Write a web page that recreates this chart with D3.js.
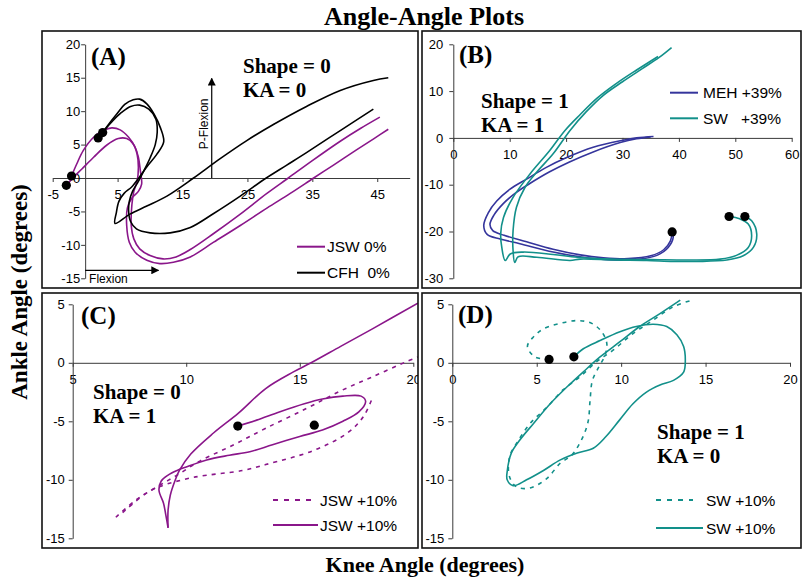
<!DOCTYPE html>
<html><head><meta charset="utf-8">
<script src="https://cdn.jsdelivr.net/npm/d3@7"></script>
<style>body{margin:0;background:#fff}svg{display:block}</style>
</head><body>
<svg id="chart" width="805" height="577"></svg>
<script>
// ---------------- DATA (knee angle, ankle angle) ----------------
// Panel A
const aJSW1 = [[-2.1,0.3],[-1.3,2.1],[-0.3,4.1],[1.3,6.1],[2.8,7.1],[4.1,7.5],[5.4,7.2],[6.7,6.1],[7.7,4.6],[8.2,3.1],[8.5,1.1],[8.7,-0.9],[8.2,-2.0],[7.2,-3.0],[6.5,-4.5],[6.4,-7.1],[6.8,-9.6],[7.7,-11.1],[9.5,-12.3],[11.5,-12.8],[13.6,-12.6],[16.2,-11.8],[19.8,-9.6],[23.9,-7.1],[28.0,-4.5],[31.6,-2.3],[35.2,0],[38.2,1.9],[41.8,4.2],[44.5,5.9],[46.7,7.3]];
const aJSW2 = [[-2.9,-1.1],[-1.8,0.1],[-0.5,1.35],[1.3,3.1],[3.3,4.9],[5.1,5.9],[6.4,5.9],[7.4,5.1],[8.0,3.6],[8.2,1.6],[8.0,-0.5],[7.5,-2.0],[7.2,-4.0],[7.1,-7.1],[7.5,-9.1],[8.4,-10.6],[10.0,-11.6],[12.0,-12.1],[14.0,-11.8],[16.2,-10.7],[19.8,-8.3],[23.9,-5.4],[28.0,-2.3],[31.3,0],[35.0,2.6],[39.3,5.5],[42.4,7.4],[45.4,9.1]];
const aCFH1 = [[2.7,6.8],[3.6,8.0],[4.9,9.6],[6.1,11.0],[7.4,11.7],[8.4,11.8],[9.5,11.1],[10.6,9.6],[11.6,7.5],[12.1,5.4],[11.0,3.5],[9.6,1.8],[8.4,0.2],[7.2,-1.3],[6.0,-2.3],[5.2,-3.5],[4.8,-5.2],[4.6,-6.8],[6.9,-5.4],[9.5,-4.2],[12.6,-2.7],[16.7,0],[20.8,2.9],[24.9,5.6],[29.0,8.0],[34.1,10.7],[39.3,13.1],[44.4,14.6],[46.7,15.0]];
const aCFH2 = [[2.0,6.0],[3.0,7.2],[4.2,8.5],[5.6,9.8],[7.0,10.7],[8.4,10.9],[9.8,10.3],[10.9,8.8],[11.1,6.8],[10.8,5.0],[10.0,3.0],[9.0,1.0],[8.2,-0.5],[7.3,-2.0],[6.8,-3.5],[6.7,-5.0],[7.0,-6.5],[7.9,-7.6],[10.0,-8.2],[13.1,-8.2],[16.2,-7.4],[19.8,-5.3],[23.9,-2.7],[27.9,0],[31.0,1.9],[34.1,3.8],[39.3,7.1],[44.4,10.3]];
const aDots = [[-2.9,-1.1],[-2.1,0.3],[2.0,6.0],[2.7,6.8]];
// Panel B
const bMEH1 = [[38.8,-20.1],[39.0,-21.2],[38.1,-23.4],[36.1,-25.1],[33.1,-25.9],[28.4,-26.1],[23.6,-25.6],[17.7,-24.4],[11.8,-22.6],[8.3,-21.6],[6.0,-20.6],[5.4,-18.7],[6.2,-16.0],[7.7,-13.5],[10.0,-11.0],[13.0,-8.8],[16.5,-6.3],[20.1,-4.2],[24.8,-2.0],[29.6,-0.6],[32.5,0],[35.5,0.3]];
const bMEH2 = [[38.8,-20.1],[38.5,-22.0],[37.3,-23.9],[35.0,-25.2],[31.0,-25.8],[26.6,-25.6],[22.5,-25.0],[17.7,-23.8],[13.0,-22.2],[9.0,-20.8],[7.0,-19.8],[6.5,-18.5],[7.2,-16.5],[8.9,-14.0],[11.0,-11.8],[13.5,-9.8],[17.0,-7.3],[20.5,-5.2],[24.8,-3.0],[29.6,-1.0],[32.5,-0.2],[35.0,0.2]];
const bSW1 = [[48.9,-16.8],[50.8,-17.3],[52.3,-18.4],[52.9,-20.9],[52.3,-23.4],[50.2,-25.1],[47.3,-25.9],[42.0,-26.1],[35.0,-26.0],[28.0,-25.9],[22.0,-25.5],[17.7,-24.9],[12.4,-24.4],[10.1,-24.8],[9.2,-26.2],[8.6,-23.4],[8.4,-20.5],[8.9,-17.0],[10.6,-12.7],[13.6,-7.7],[17.1,-2.7],[19.8,1.6],[22.5,5.0],[25.5,8.5],[29.0,11.7],[32.5,14.5],[36.3,17.4]];
const bSW2 = [[51.7,-16.8],[52.9,-17.7],[53.8,-20.5],[53.2,-23.4],[51.4,-25.2],[48.5,-26.1],[43.2,-26.4],[39.0,-26.4],[34.3,-26.2],[28.4,-26.1],[22.5,-25.9],[20.7,-26.2],[14.8,-25.5],[11.5,-25.4],[10.9,-26.6],[10.6,-24.1],[10.6,-19.8],[11.2,-14.8],[12.7,-10.6],[14.8,-7.3],[17.7,-3.4],[20.7,1.6],[23.5,5.5],[26.5,9.0],[30.0,12.0],[33.5,14.8],[36.5,17.2],[38.7,19.3]];
const bDots = [[38.8,-20.1],[48.9,-16.8],[51.7,-16.8]];
// Panel C
const cSolid1 = [[12.27,-5.41],[13.1,-4.9],[14.1,-4.2],[15.2,-3.5],[16.0,-3.1],[16.9,-2.85],[17.7,-2.85],[17.9,-3.3],[17.6,-4.2],[16.9,-5.0],[16.0,-5.75],[15.0,-6.3],[13.8,-7.0],[12.8,-7.6],[11.9,-7.9],[10.9,-8.3],[10.0,-8.9],[9.6,-9.2],[9.2,-9.6],[8.9,-10.1],[8.8,-10.9],[9.0,-12.0],[9.1,-13.0],[9.2,-14.1]];
const cSolid2 = [[9.2,-14.1],[9.2,-12.6],[9.3,-11.3],[9.5,-10.1],[9.7,-9.2],[10.2,-7.8],[11.2,-6.0],[12.3,-4.3],[13.5,-2.2],[14.7,-0.8],[15.5,0],[16.8,1.4],[18.2,2.9],[20.2,5.1]];
const cDash1 = [[6.9,-13.2],[7.8,-11.7],[8.8,-10.5],[9.6,-9.6],[10.6,-8.4],[12.1,-7.0],[13.5,-5.6],[15.3,-3.9],[16.8,-2.4],[18.2,-1.2],[19.7,0.1],[20.2,0.5]];
const cDash2 = [[7.2,-12.8],[8.2,-11.2],[8.8,-10.6],[10.3,-9.8],[12.5,-9.2],[13.5,-8.7],[15.6,-7.5],[17.1,-6.0],[17.8,-4.6],[18.2,-3.0]];
const cDots = [[12.27,-5.41],[15.64,-5.33]];
// Panel D
const dSolid = [[7.2,0.5],[7.76,1.2],[8.75,1.9],[9.93,2.65],[10.9,3.1],[11.9,3.3],[12.7,3.1],[13.3,2.4],[13.7,1.4],[13.8,0.2],[13.7,-0.8],[13.1,-1.5],[12.3,-1.9],[11.5,-2.5],[10.7,-3.5],[9.9,-4.9],[9.1,-6.3],[8.35,-7.3],[7.4,-7.7],[6.4,-8.3],[5.4,-9.2],[4.4,-10.0],[3.6,-10.5],[3.25,-10.0],[3.26,-9.2],[3.5,-7.7],[4.0,-6.6],[4.8,-5.2],[5.8,-3.5],[6.8,-2.05],[7.76,-0.77],[8.75,0.5],[9.93,1.8],[11.1,3.1],[12.3,4.2],[13.5,5.35]];
const dDash = [[5.73,0.29],[4.9,0.5],[4.45,1.4],[4.8,2.2],[5.4,2.9],[6.78,3.5],[7.57,3.6],[8.26,3.37],[8.85,2.65],[9.15,1.66],[9.05,0.66],[8.7,-0.3],[8.3,-1.5],[8.16,-3.2],[8.06,-4.9],[7.86,-5.9],[7.5,-7.0],[7.07,-7.9],[6.38,-8.6],[5.59,-9.9],[4.6,-10.7],[3.8,-10.6],[3.38,-9.7],[3.4,-8.0],[3.8,-6.9],[4.6,-5.2],[5.6,-3.8],[6.57,-2.3],[7.56,-1.2],[8.55,0.1],[9.54,1.1],[10.7,2.5],[11.9,3.65],[13.1,4.8],[14.2,5.35]];
const dDots = [[5.73,0.29],[7.2,0.51]];

// Tick labels
const aXTicks = [-5,5,15,25,35,45], aYTicks = [-15,-10,-5,0,5,10,15,20];
const bXTicks = [0,10,20,30,40,50,60], bYTicks = [-30,-20,-10,0,10,20];
const cXTicks = [5,10,15,20], cYTicks = [-15,-10,-5,0,5];
const dXTicks = [0,5,10,15,20], dYTicks = [-15,-10,-5,0,5];

// Legend labels
const aLegend = ["JSW 0%", "CFH  0%"];
const bLegend = ["MEH +39%", "SW   +39%"];
const cLegend = ["JSW +10%", "JSW +10%"];
const dLegend = ["SW +10%", "SW +10%"];

// ---------------- DRAWING ----------------
const PURPLE = "#8a168a", BLACK = "#000", NAVY = "#35359c", TEAL = "#12908a";
const SERIF = "'Liberation Serif','Times New Roman',serif";
const SANS = "'Liberation Sans',Arial,sans-serif";
const svg = d3.select("#chart");

svg.append("defs").append("marker").attr("id","arr").attr("viewBox","0 0 10 10")
  .attr("refX",9).attr("refY",5).attr("markerWidth",8).attr("markerHeight",8)
  .attr("markerUnits","userSpaceOnUse").attr("orient","auto")
  .append("path").attr("d","M0,0L10,5L0,10z").attr("fill","#000");

function panel(cfg) {
  const clipId = "clip" + cfg.id;
  svg.select("defs").append("clipPath").attr("id", clipId)
    .append("rect").attr("x", cfg.box[0]).attr("y", cfg.box[1]).attr("width", cfg.box[2]).attr("height", cfg.box[3]);
  const g = svg.append("g").attr("clip-path", `url(#${clipId})`);
  const x = d3.scaleLinear().domain(cfg.xd).range(cfg.xr);
  const y = d3.scaleLinear().domain(cfg.yd).range(cfg.yr);
  const fmt = d => String(d);
  const xa = g.append("g").attr("transform", `translate(0,${y(0)})`)
    .call(d3.axisBottom(x).tickValues(cfg.xt).tickSize(4).tickPadding(8).tickSizeOuter(0).tickFormat(fmt));
  const ya = g.append("g").attr("transform", `translate(${x(cfg.yAt)},0)`)
    .call(d3.axisLeft(y).tickValues(cfg.yt).tickSize(4).tickPadding(cfg.ypad).tickSizeOuter(0).tickFormat(fmt));
  [xa, ya].forEach(a => {
    a.selectAll("path,line").attr("stroke", "#3a3a3a").attr("stroke-width", 1);
    a.selectAll("text").attr("font-family", SANS).attr("font-size", 13).attr("fill", "#000");
  });
  const line = d3.line().x(d => x(d[0])).y(d => y(d[1])).curve(d3.curveCatmullRom.alpha(0.5));
  cfg.series.forEach(s => {
    g.append("path").attr("d", line(s.data)).attr("fill", "none")
      .attr("stroke", s.color).attr("stroke-width", 1.6)
      .attr("stroke-dasharray", s.dash ? "4,5" : null);
  });
  g.selectAll(null).data(cfg.dots).enter().append("circle")
    .attr("cx", d => x(d[0])).attr("cy", d => y(d[1])).attr("r", 4.6).attr("fill", "#000");
  // legend
  cfg.legend.forEach((lab, i) => {
    const L = cfg.leg;
    g.append("line").attr("x1", L.x1).attr("x2", L.x2[i]).attr("y1", L.y[i]).attr("y2", L.y[i])
      .attr("stroke", cfg.legColors[i]).attr("stroke-width", 2)
      .attr("stroke-dasharray", cfg.legDash[i] ? "5,6" : null);
    g.append("text").attr("x", L.tx).attr("y", L.y[i]).attr("dy", "0.36em")
      .attr("font-family", SANS).attr("font-size", 15.5).attr("fill", "#000")
      .style("white-space", "pre").text(lab);
  });
  // annotations
  g.append("text").attr("x", cfg.tag[0]).attr("y", cfg.tag[1]).attr("font-family", SERIF)
    .attr("font-weight", "bold").attr("font-size", 25).text(cfg.tag[2]);
  cfg.notes.forEach(n => {
    g.append("text").attr("x", n[0]).attr("y", n[1]).attr("font-family", SERIF)
      .attr("font-weight", "bold").attr("font-size", 21).style("white-space", "pre").text(n[2]);
  });
  svg.append("rect").attr("x", cfg.box[0]).attr("y", cfg.box[1]).attr("width", cfg.box[2]).attr("height", cfg.box[3])
    .attr("fill", "none").attr("stroke", "#111").attr("stroke-width", 1.6);
  return {g, x, y};
}

const A = panel({id:"A", box:[42,31,376,257], xd:[-5,50], xr:[52.7,409.7], yd:[-15,20], yr:[278.3,44.3], yAt:0,
  xt:aXTicks, yt:aYTicks, ypad:1,
  series:[{data:aJSW1,color:PURPLE},{data:aJSW2,color:PURPLE},{data:aCFH1,color:BLACK},{data:aCFH2,color:BLACK}],
  dots:aDots, legend:aLegend, legColors:[PURPLE,BLACK], legDash:[false,false],
  leg:{x1:297, x2:[325,325], y:[246.7,272.7], tx:327},
  tag:[91,65,"(A)"], notes:[[243,73,"Shape = 0"],[243,97,"KA = 0"]]});
// Flexion arrows in panel A
A.g.append("line").attr("x1", A.x(19.5)).attr("x2", A.x(19.5)).attr("y1", A.y(0)).attr("y2", A.y(14.9))
  .attr("stroke", "#000").attr("stroke-width", 1.2).attr("marker-end", "url(#arr)");
A.g.append("text").attr("transform", `translate(${A.x(19.5) - 4},${A.y(8.1)}) rotate(-90)`)
  .attr("text-anchor", "middle").attr("font-family", SANS).attr("font-size", 12).text("P-Flexion");
A.g.append("line").attr("x1", A.x(0)).attr("x2", A.x(11.3)).attr("y1", A.y(-13.8)).attr("y2", A.y(-13.8))
  .attr("stroke", "#000").attr("stroke-width", 1.2).attr("marker-end", "url(#arr)");
A.g.append("text").attr("x", A.x(0.6)).attr("y", A.y(-15.7)).attr("font-family", SANS).attr("font-size", 12).text("Flexion");

panel({id:"B", box:[422,31,379,257], xd:[0,60], xr:[453.3,791.7], yd:[-30,20], yr:[278.3,44.3], yAt:0,
  xt:bXTicks, yt:bYTicks, ypad:6,
  series:[{data:bMEH1,color:NAVY},{data:bMEH2,color:NAVY},{data:bSW1,color:TEAL},{data:bSW2,color:TEAL}],
  dots:bDots, legend:bLegend, legColors:[NAVY,TEAL], legDash:[false,false],
  leg:{x1:670, x2:[698,698], y:[92.7,118.3], tx:703},
  tag:[459,63,"(B)"], notes:[[481,108,"Shape = 1"],[481,132,"KA = 1"]]});

panel({id:"C", box:[42,293,376,255], xd:[5,20], xr:[72.7,413.3], yd:[-15,5], yr:[538.3,304.3], yAt:5,
  xt:cXTicks, yt:cYTicks, ypad:4,
  series:[{data:cDash1,color:PURPLE,dash:true},{data:cDash2,color:PURPLE,dash:true},{data:cSolid1,color:PURPLE},{data:cSolid2,color:PURPLE}],
  dots:cDots, legend:cLegend, legColors:[PURPLE,PURPLE], legDash:[true,false],
  leg:{x1:273, x2:[313,318], y:[500,525], tx:320},
  tag:[81,324,"(C)"], notes:[[93,399,"Shape = 0"],[93,423,"KA = 1"]]});

panel({id:"D", box:[422,293,379,255], xd:[0,20], xr:[452.3,790], yd:[-15,5], yr:[538.3,304.3], yAt:0,
  xt:dXTicks, yt:dYTicks, ypad:4,
  series:[{data:dDash,color:TEAL,dash:true},{data:dSolid,color:TEAL}],
  dots:dDots, legend:dLegend, legColors:[TEAL,TEAL], legDash:[true,false],
  leg:{x1:656, x2:[693,703], y:[500,528], tx:706},
  tag:[458,323,"(D)"], notes:[[657,439,"Shape = 1"],[657,463,"KA = 0"]]});

// Titles
svg.append("text").attr("x", 424).attr("y", 25).attr("text-anchor", "middle").attr("font-family", SERIF)
  .attr("font-weight", "bold").attr("font-size", 26).text("Angle-Angle Plots");
svg.append("text").attr("x", 425).attr("y", 572).attr("text-anchor", "middle").attr("font-family", SERIF)
  .attr("font-weight", "bold").attr("font-size", 22).text("Knee Angle (degrees)");
svg.append("text").attr("transform", "translate(27,292) rotate(-90)").attr("text-anchor", "middle").attr("font-family", SERIF)
  .attr("font-weight", "bold").attr("font-size", 23).text("Ankle Angle (degrees)");
</script>
</body></html>
